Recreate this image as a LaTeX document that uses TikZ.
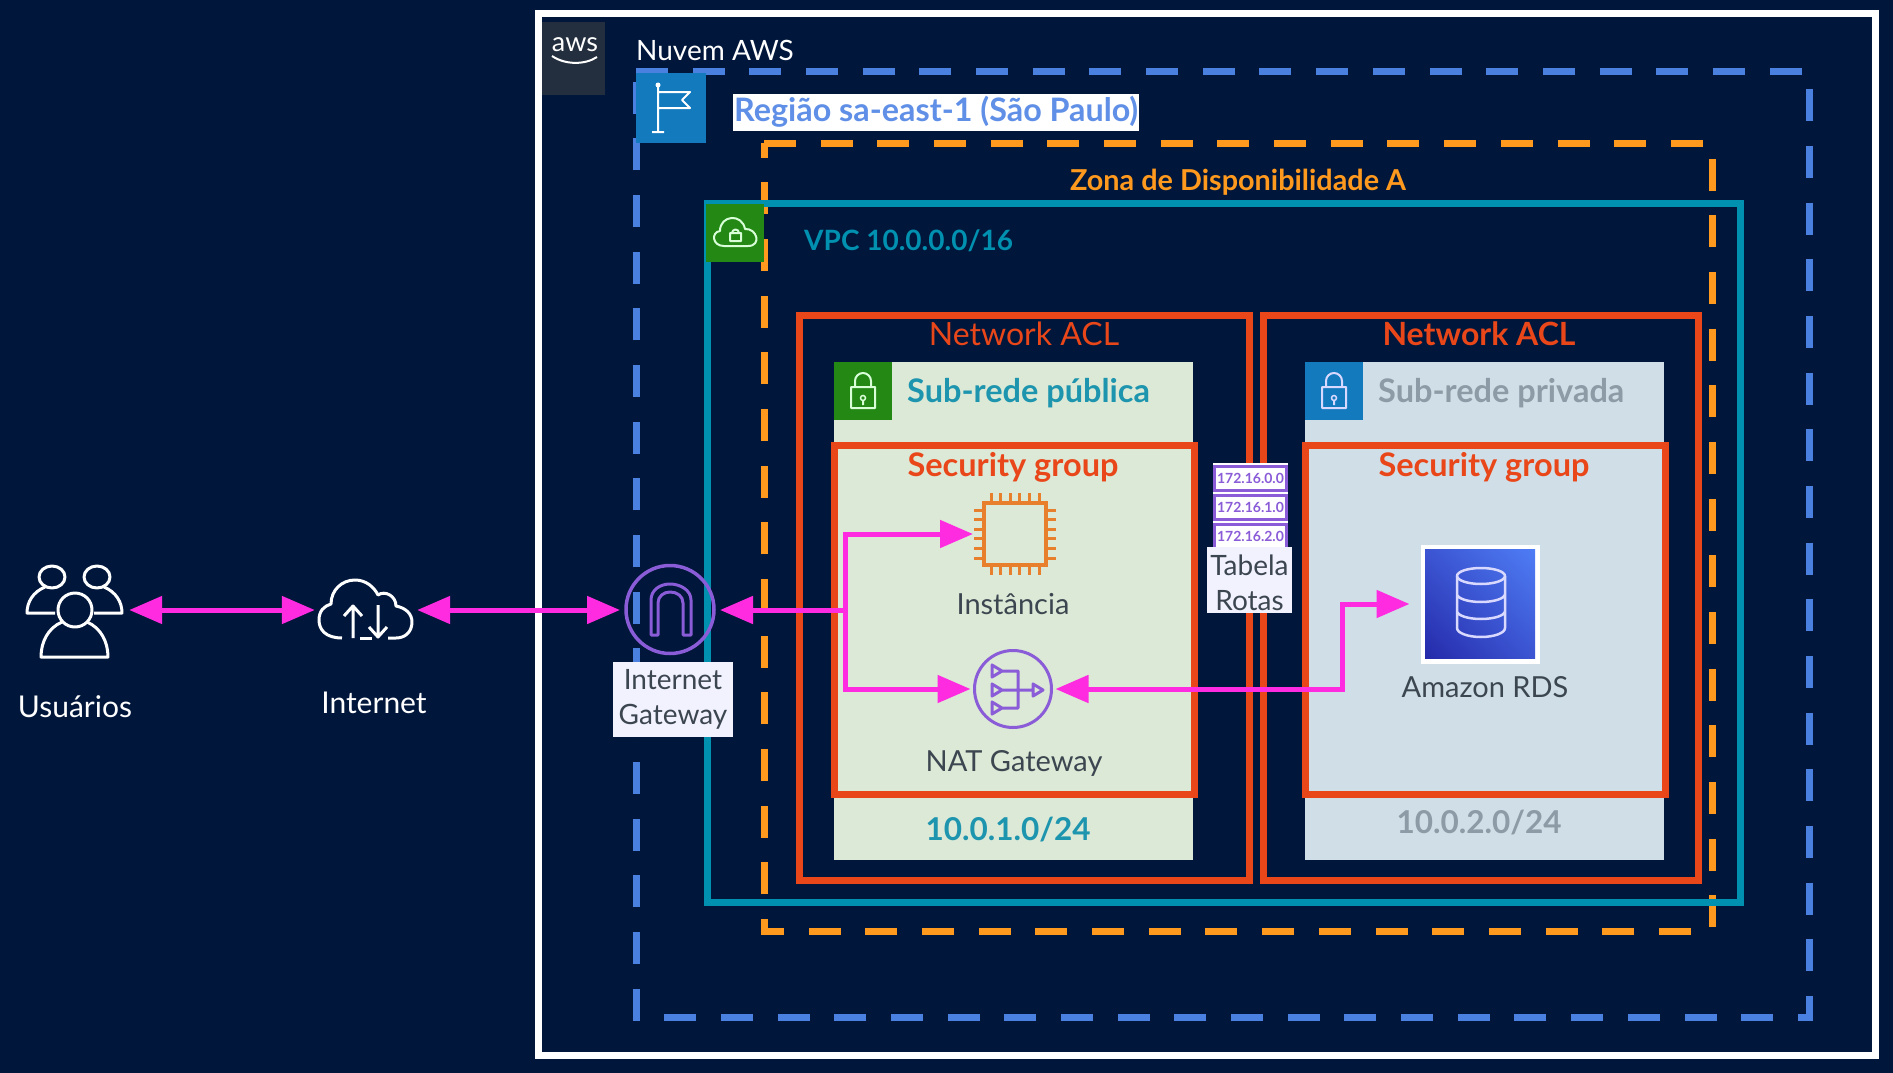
\documentclass[tikz,border=0pt]{standalone}
\usepackage{fontspec}
\setmainfont{Lato}
\usetikzlibrary{arrows.meta,shadings}
\definecolor{navy}{HTML}{00163A}
\definecolor{pink}{HTML}{FF2BE0}
\definecolor{regionblue}{HTML}{4A80E0}
\definecolor{regiontext}{HTML}{5F8FE6}
\definecolor{zoneorange}{HTML}{FF9A1E}
\definecolor{vpcteal}{HTML}{0090B0}
\definecolor{subnetteal}{HTML}{1E95AE}
\definecolor{aclred}{HTML}{E9471A}
\definecolor{purple}{HTML}{8A5CD8}
\definecolor{ec2orange}{HTML}{E87F2C}
\definecolor{darktext}{HTML}{3C4650}
\definecolor{greybold}{HTML}{8C9BA5}
\definecolor{awsdark}{HTML}{232F3E}
\definecolor{tagblue}{HTML}{147ABE}
\definecolor{taggreen}{HTML}{248814}
\definecolor{publicfill}{HTML}{DCE9D6}
\definecolor{privatefill}{HTML}{D0DFE7}
\definecolor{rdsa}{HTML}{242AAA}
\definecolor{rdsb}{HTML}{3C55D2}
\definecolor{rdsc}{HTML}{4E7DF5}
\begin{document}
\begin{tikzpicture}[
        x=1pt, y=-1pt,
        frame/.style={line width=7pt},
        aclframe/.style={line width=7pt, draw=aclred},
        dashframe/.style={line width=7pt, dash pattern=on 32pt off 24.68pt},
        tag/.style={rectangle, inner sep=0pt, minimum size=58pt},
        subnet/.style={rectangle, inner sep=0pt, minimum width=359pt, minimum height=498pt},
        label/.style={inner sep=0pt, font=\fontsize{29}{33}\selectfont},
        boldlabel/.style={inner sep=0pt, font=\fontsize{32.5}{36}\selectfont\bfseries},
        cidrlabel/.style={inner sep=0pt, font=\fontsize{31.5}{36}\selectfont\bfseries},
        icon/.style={line width=3pt, line join=round},
        whitebox/.style={rectangle, inner sep=0pt, fill=white!95!blue, text=darktext, align=center, font=\fontsize{28}{35}\selectfont},
        routebox/.style={rectangle, draw=purple, line width=3pt, fill=white, text=purple, inner sep=0pt, minimum width=72pt, minimum height=24pt, font=\fontsize{14}{14}\selectfont\bfseries},
        link/.style={line width=5pt, draw=pink},
        tip/.style={{Triangle[length=33pt,width=27pt]}-},
        tips/.style={{Triangle[length=33pt,width=27pt]}-{Triangle[length=33pt,width=27pt]}},
        tipend/.style={-{Triangle[length=33pt,width=27pt]}}
    ]

        \useasboundingbox (0,0) rectangle (1893,1073);
        \fill[navy] (0,0) rectangle (1893,1073);

        % Frames
        \draw[frame, white] (538,14) rectangle (1875,1055);
        \draw[dashframe, regionblue] (636,72) -- (1809,72) -- (1809,1017) -- (636,1017) -- cycle;
        \draw[dashframe, zoneorange] (764,143) -- (1712,143) -- (1712,931) -- (764,931) -- cycle;
        \draw[frame, vpcteal] (707,203) rectangle (1740,902);
        \draw[aclframe] (799,315) rectangle (1249,880);
        \draw[aclframe] (1263,315) rectangle (1698,880);

        % Subnets
        \node[subnet, fill=publicfill] (sub_publica) at (1013.5,611) {};
        \node[subnet, fill=privatefill] (sub_privada) at (1484.5,611) {};
        \draw[aclframe] (834,445) rectangle (1194,794);
        \draw[aclframe] (1305,445) rectangle (1665,794);

        % Tags
        \node[tag, fill=awsdark, minimum width=63pt, minimum height=73pt] (tag_aws) at (573.5,58.5) {};
        \node[inner sep=0pt, text=white, font=\fontsize{27}{27}\selectfont] (aws_text) at (575,45) {aws};
        \draw[white, line width=2pt] (552,56) .. controls (565,65) and (585,65) .. (597,57);
        \node[tag, fill=tagblue, minimum width=70pt, minimum height=70pt] (tag_regiao) at (671,108) {};
        \draw[icon, white, line width=2pt] (658,86) -- (658,132) (652,132) -- (664,132)
            (658,92) -- (690,92) -- (682,100) -- (690,108) -- (658,108);
        \fill[white] (658,85) circle (2.5);
        \node[tag, fill=taggreen] (tag_vpc) at (735,233) {};
        \draw[icon, white!85!green, line width=2pt] (724,246) .. controls (712,246) and (711,232) .. (720,231)
            .. controls (720,215) and (742,213) .. (745,229) .. controls (757,228) and (762,246) .. (748,246) -- cycle;
        \draw[icon, white!85!green, line width=2pt] (730,233) rectangle (741,241) (732,233) arc[start angle=180, end angle=360, x radius=3.5, y radius=3.5];
        \node[tag, fill=taggreen] (tag_publica) at (863,391) {};
        \draw[icon, white!85!green, line width=2pt] (851,387) rectangle (875,408) (855,387) -- (855,381) arc[start angle=180, end angle=360, x radius=8, y radius=8] -- (871,387)
            (863,401) -- (863,405);
        \draw[white!85!green, line width=1.5pt] (863,398) circle (2.5);
        \node[tag, fill=tagblue] (tag_privada) at (1334,391) {};
        \draw[icon, white!85!blue, line width=2pt] (1322,387) rectangle (1346,408) (1326,387) -- (1326,381) arc[start angle=180, end angle=360, x radius=8, y radius=8] -- (1342,387)
            (1334,401) -- (1334,405);
        \draw[white!85!blue, line width=1.5pt] (1334,398) circle (2.5);

        % Labels
        \node[label, anchor=west, text=white, font=\fontsize{28}{32}\selectfont] (nuvem_label) at (636,50) {Nuvem AWS};
        \node[boldlabel, anchor=west, fill=white, text=regiontext, font=\fontsize{32.3}{36}\selectfont\bfseries, minimum height=37pt, inner xsep=1pt] (regiao_label) at (733,112) {Região sa-east-1 (São Paulo)};
        \node[boldlabel, text=zoneorange, font=\fontsize{28.8}{32}\selectfont\bfseries] (zona_label) at (1238,182) {Zona de Disponibilidade A};
        \node[boldlabel, anchor=west, text=vpcteal, font=\fontsize{28}{32}\selectfont\bfseries] (vpc_label) at (804,241) {VPC 10.0.0.0/16};
        \node[label, text=aclred, font=\fontsize{32}{36}\selectfont] (acl_label_a) at (1024,334) {Network ACL};
        \node[label, text=aclred, font=\fontsize{32}{36}\selectfont\bfseries] (acl_label_b) at (1479,334) {Network ACL};
        \node[boldlabel, anchor=west, text=subnetteal] (publica_label) at (907,393.5) {Sub-rede pública};
        \node[boldlabel, anchor=west, text=greybold] (privada_label) at (1378,393.5) {Sub-rede privada};
        \node[boldlabel, text=aclred] (sg_label_a) at (1013,467) {Security group};
        \node[boldlabel, text=aclred] (sg_label_b) at (1484,467) {Security group};
        \node[cidrlabel, text=subnetteal] (cidr_a) at (1008,830) {10.0.1.0/24};
        \node[cidrlabel, text=greybold] (cidr_b) at (1479,823) {10.0.2.0/24};
        \node[label, text=darktext] (instancia_label) at (1013,604) {Instância};
        \node[label, text=darktext] (nat_label) at (1014,763) {NAT Gateway};
        \node[label, text=darktext] (rds_label) at (1485,687) {Amazon RDS};
        \node[label, text=white, font=\fontsize{30}{34}\selectfont] (usuarios_label) at (75,707) {Usuários};
        \node[label, text=white, font=\fontsize{30}{34}\selectfont] (internet_label) at (374,703) {Internet};

        % Route table
        \fill[white] (1213,463) rectangle (1288,549);
        \node[routebox] (route_a) at (1250.5,478) {172.16.0.0};
        \node[routebox] (route_b) at (1250.5,507) {172.16.1.0};
        \node[routebox] (route_c) at (1250.5,536) {172.16.2.0};
        \fill[white!95!blue] (1207,547) rectangle (1292,613);
        \node[whitebox, fill=none] (route_label) at (1249.5,583) {Tabela\\Rotas};

        % Users
        \node[inner sep=0pt, minimum width=107pt, minimum height=92pt] (users) at (75.5,610) {};
        \draw[icon, white] (52,577) ellipse (13 and 11) (97,577) ellipse (13 and 11);
        \draw[icon, white] (45,587) .. controls (33,592) and (27,602) .. (27,613) -- (55,613);
        \draw[icon, white] (104,587) .. controls (116,592) and (122,602) .. (122,613) -- (94,613);
        \draw[icon, white, fill=navy] (75,610) ellipse (17 and 17);
        \draw[icon, white] (62,622) .. controls (48,628) and (41,642) .. (41,657) -- (108,657) .. controls (108,642) and (101,628) .. (87,622);

        % Internet
        \node[inner sep=0pt, minimum width=102pt, minimum height=60pt] (internet) at (366,610) {};
        \draw[icon, white] (342,638) .. controls (326,638) and (319,630) .. (319,620) .. controls (319,611) and (324,606) .. (331,604)
            .. controls (331,590) and (342,580) .. (355,580) .. controls (366,580) and (374,587) .. (378,595)
            .. controls (385,590) and (396,596) .. (396,606) .. controls (406,608) and (412,614) .. (412,622)
            .. controls (412,632) and (405,638) .. (396,638) -- (388,638);
        \draw[icon, white] (360,638) -- (372,638);
        \draw[icon, white] (353,638) -- (353,606) (344,616) -- (353,606) -- (362,616);
        \draw[icon, white] (378,605) -- (378,637) (369,627) -- (378,637) -- (387,627);

        % Internet Gateway
        \node[circle, draw=purple, line width=3.5pt, minimum size=88pt, inner sep=0pt, outer sep=6pt] (igw) at (670,609.5) {};
        \draw[icon, purple] (651,635) -- (651,600) .. controls (651,590) and (660,584) .. (670,584) .. controls (680,584) and (691,590) .. (691,600) -- (691,635) -- (683,635) -- (683,603) .. controls (683,596) and (677,592) .. (670,592) .. controls (664,592) and (658,596) .. (658,603) -- (658,635) -- cycle;
        \node[whitebox, minimum width=120pt, minimum height=75pt] (igw_label) at (673,699.5) {Internet\\Gateway};

        % EC2 instance
        \node[rectangle, draw=ec2orange, line width=3.5pt, minimum size=62pt, inner sep=0pt, outer sep=11pt] (ec2) at (1015,534) {};
        \foreach \d in {-24,-14.4,-4.8,4.8,14.4,24} {
            \draw[ec2orange, line width=3pt] (1015+\d,493) -- (1015+\d,503) (1015+\d,565) -- (1015+\d,575)
                (974,534+\d) -- (984,534+\d) (1046,534+\d) -- (1056,534+\d);
        }

        % NAT Gateway
        \node[circle, draw=purple, line width=3pt, minimum size=77pt, inner sep=0pt, outer sep=4pt] (nat) at (1013,689) {};
        \draw[icon, purple] (992,665) -- (1002,671) -- (992,677) -- cycle
            (992,684) -- (1002,690) -- (992,696) -- cycle
            (992,702) -- (1002,708) -- (992,714) -- cycle
            (1033,684) -- (1043,690) -- (1033,696) -- cycle
            (1002,671) -- (1018,671) -- (1018,708) -- (1002,708) (1002,690) -- (1033,690);

        % RDS
        \node[rectangle, fill=white, minimum size=119pt, inner sep=0pt, outer sep=11pt] (rds) at (1480,604) {};
        \shade[lower left=rdsa, lower right=rdsb, upper left=rdsb, upper right=rdsc] (1425,549) rectangle (1535,658);
        \draw[icon, white!85!blue, line width=2.5pt] (1481,576) ellipse (24 and 8);
        \draw[icon, white!85!blue, line width=2.5pt] (1457,576) -- (1457,628) arc[start angle=180, end angle=0, x radius=24, y radius=9] -- (1505,576)
            (1457,594) arc[start angle=180, end angle=0, x radius=24, y radius=8]
            (1457,611) arc[start angle=180, end angle=0, x radius=24, y radius=8];

        % Connectors
        \coordinate (split) at (845,610);
        \coordinate (natbend) at (1342,689);
        \draw[link, tips] (users.east) -- (internet.west);
        \draw[link, tips] (internet.east) -- (igw.west |- internet.east);
        \draw[link, tip] (igw.east |- split) -- (split);
        \draw[link, tipend] (split) |- (ec2.west);
        \draw[link, tipend] (split) |- (nat.west);
        \draw[link, tips] (nat.east) -- (natbend) |- (rds.west);

    \end{tikzpicture}
\end{document}
